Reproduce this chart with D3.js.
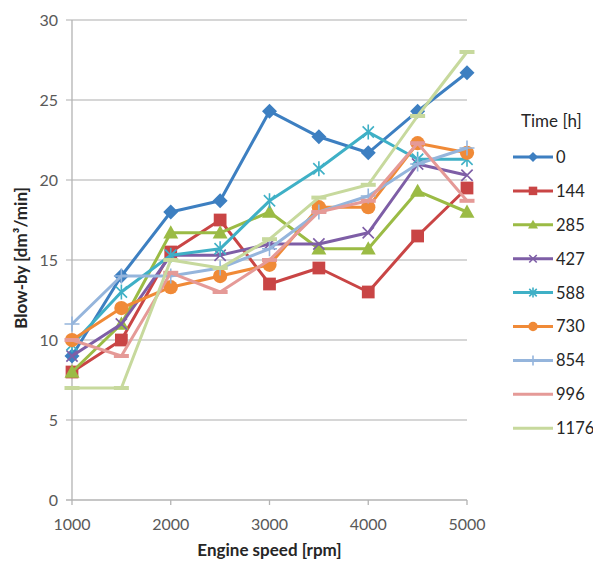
<!DOCTYPE html>
<html lang="en">
<head>
<meta charset="UTF-8">
<title>Blow-by vs engine speed</title>
<script src="https://d3js.org/d3.v7.min.js"></script>
<style>
  body { margin: 0; background: #fff; }
  svg text { font-family: Lato, "Open Sans", sans-serif; fill: #404040; }
</style>
</head>
<body>
<div id="chart"></div>
<script>
// engine speed (rpm)
var speeds = [1000, 1500, 2000, 2500, 3000, 3500, 4000, 4500, 5000];
// legend labels (time in hours)
var times = ["0", "144", "285", "427", "588", "730", "854", "996", "1176"];
// blow-by values per series
var s0    = [9.0, 14.0, 18.0, 18.7, 24.3, 22.7, 21.7, 24.3, 26.7];
var s144  = [8.0, 10.0, 15.5, 17.5, 13.5, 14.5, 13.0, 16.5, 19.5];
var s285  = [8.0, 11.0, 16.7, 16.7, 18.0, 15.7, 15.7, 19.3, 18.0];
var s427  = [9.0, 11.0, 15.3, 15.3, 16.0, 16.0, 16.7, 21.0, 20.3];
var s588  = [9.7, 13.0, 15.3, 15.7, 18.7, 20.7, 23.0, 21.3, 21.3];
var s730  = [10.0, 12.0, 13.3, 14.0, 14.7, 18.3, 18.3, 22.3, 21.7];
var s854  = [11.0, 14.0, 14.0, 14.5, 15.7, 18.0, 19.0, 21.0, 22.0];
var s996  = [10.0, 9.0, 14.2, 13.0, 15.0, 18.0, 18.7, 22.3, 18.7];
var s1176 = [7.0, 7.0, 15.0, 14.5, 16.3, 18.9, 19.7, 24.0, 28.0];
var xTicks = [1000, 2000, 3000, 4000, 5000];
var yTicks = [0, 5, 10, 15, 20, 25, 30];

var allSeries = [s0, s144, s285, s427, s588, s730, s854, s996, s1176];
var colors = ["#3d7fc1", "#c94545", "#9bbb45", "#7e5ea6", "#3fb0c6", "#f08a37", "#95b5dc", "#e59a97", "#c7d99d"];
var markers = ["diamond", "square", "triangle", "x", "star", "circle", "plus", "dash", "dash"];

var W = 593, H = 561;
var margin = {top: 20, left: 72, right: 126, bottom: 61};

var svg = d3.select("#chart").append("svg")
  .attr("width", W).attr("height", H);

var x = d3.scaleLinear().domain([1000, 5000]).range([margin.left, W - margin.right]);
var y = d3.scaleLinear().domain([0, 30]).range([H - margin.bottom, margin.top]);

// horizontal gridlines
svg.append("g").selectAll("line").data(yTicks).enter().append("line")
  .attr("x1", margin.left - 6).attr("x2", x(5000))
  .attr("y1", function(d) { return y(d); }).attr("y2", function(d) { return y(d); })
  .attr("stroke", function(d) { return d === 0 ? "#b3b3b3" : "#c8c8c8"; })
  .attr("stroke-width", 1.3);

// y axis line
svg.append("line")
  .attr("x1", x(1000)).attr("x2", x(1000))
  .attr("y1", y(30)).attr("y2", y(0))
  .attr("stroke", "#b3b3b3").attr("stroke-width", 1.3);

// x ticks
svg.append("g").selectAll("line").data(xTicks).enter().append("line")
  .attr("x1", function(d) { return x(d); }).attr("x2", function(d) { return x(d); })
  .attr("y1", y(0)).attr("y2", y(0) + 5)
  .attr("stroke", "#b3b3b3").attr("stroke-width", 1.3);

// tick labels
svg.append("g").selectAll("text").data(yTicks).enter().append("text")
  .attr("x", margin.left - 14).attr("y", function(d) { return y(d); })
  .attr("dy", "0.36em").attr("text-anchor", "end")
  .style("font-size", "16px").style("fill", "#595959")
  .text(function(d) { return d; });

svg.append("g").selectAll("text").data(xTicks).enter().append("text")
  .attr("x", function(d) { return x(d); }).attr("y", y(0) + 30)
  .attr("text-anchor", "middle")
  .style("font-size", "16px").style("fill", "#595959")
  .text(function(d) { return d; });

// axis titles
svg.append("text")
  .attr("x", (x(1000) + x(5000)) / 2).attr("y", 556)
  .attr("text-anchor", "middle")
  .style("font-size", "17px").style("font-weight", "bold").style("fill", "#262626")
  .text("Engine speed [rpm]");

svg.append("text")
  .attr("transform", "translate(27," + 258 + ") rotate(-90)")
  .attr("text-anchor", "middle")
  .style("font-size", "17px").style("font-weight", "bold").style("fill", "#262626")
  .text("Blow-by [dm³/min]");

// marker drawing
function drawMarker(g, type, color, s) {
  if (type === "diamond") {
    g.append("path").attr("d", "M0," + (-s) + "L" + s + ",0L0," + s + "L" + (-s) + ",0Z").attr("fill", color);
  } else if (type === "square") {
    g.append("rect").attr("x", -s * 0.85).attr("y", -s * 0.85).attr("width", s * 1.7).attr("height", s * 1.7).attr("fill", color);
  } else if (type === "triangle") {
    g.append("path").attr("d", "M0," + (-s) + "L" + s + "," + (s * 0.75) + "L" + (-s) + "," + (s * 0.75) + "Z").attr("fill", color);
  } else if (type === "circle") {
    g.append("circle").attr("r", s * 0.95).attr("fill", color);
  } else if (type === "x") {
    var a = s * 0.75;
    g.append("path").attr("d", "M" + (-a) + "," + (-a) + "L" + a + "," + a + "M" + (-a) + "," + a + "L" + a + "," + (-a))
      .attr("stroke", color).attr("stroke-width", 1.6);
  } else if (type === "star") {
    var b = s * 0.75;
    g.append("path").attr("d", "M" + (-b) + "," + (-b) + "L" + b + "," + b + "M" + (-b) + "," + b + "L" + b + "," + (-b) + "M0," + (-s) + "L0," + s)
      .attr("stroke", color).attr("stroke-width", 1.6);
  } else if (type === "plus") {
    g.append("path").attr("d", "M" + (-s) + ",0L" + s + ",0M0," + (-s) + "L0," + s)
      .attr("stroke", color).attr("stroke-width", 1.6);
  } else if (type === "dash") {
    g.append("rect").attr("x", -s).attr("y", -2).attr("width", 2 * s).attr("height", 4).attr("fill", color);
  }
}

var line = d3.line()
  .x(function(d, i) { return x(speeds[i]); })
  .y(function(d) { return y(d); });

allSeries.forEach(function(vals, k) {
  var g = svg.append("g");
  g.append("path").datum(vals)
    .attr("d", line)
    .attr("fill", "none")
    .attr("stroke", colors[k])
    .attr("stroke-width", 3)
    .attr("stroke-linejoin", "round");
  vals.forEach(function(v, i) {
    var m = g.append("g").attr("transform", "translate(" + x(speeds[i]) + "," + y(v) + ")");
    drawMarker(m, markers[k], colors[k], 7.5);
  });
});

// legend
svg.append("text")
  .attr("x", 521).attr("y", 127)
  .style("font-size", "17px").style("fill", "#262626")
  .text("Time [h]");

var leg = svg.append("g").selectAll("g").data(times).enter().append("g")
  .attr("transform", function(d, i) { return "translate(0," + (157 + i * 33.9) + ")"; });

leg.each(function(d, i) {
  var g = d3.select(this);
  g.append("line").attr("x1", 513).attr("x2", 553).attr("y1", 0).attr("y2", 0)
    .attr("stroke", colors[i]).attr("stroke-width", 3);
  if (markers[i] !== "dash") {
    var m = g.append("g").attr("transform", "translate(533,0)");
    drawMarker(m, markers[i], colors[i], 5);
  }
  g.append("text").attr("x", 556).attr("y", 0).attr("dy", "0.36em")
    .style("font-size", "16.5px").style("fill", "#262626")
    .text(d);
});
</script>
</body>
</html>
